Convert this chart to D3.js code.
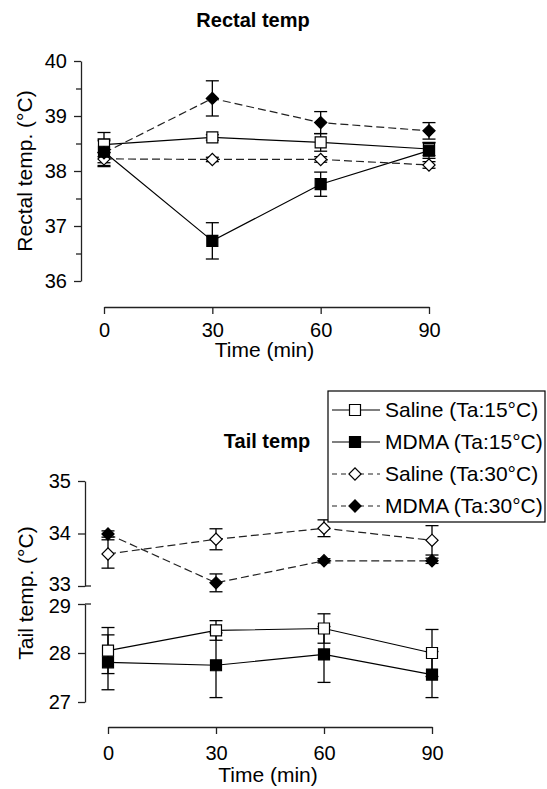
<!DOCTYPE html>
<html>
<head>
<meta charset="utf-8">
<script src="https://cdn.jsdelivr.net/npm/d3@7"></script>
<style>
  body { margin: 0; background: #fff; }
  svg { font-family: 'Liberation Sans', Arial, sans-serif; }
</style>
</head>
<body>
<div id="chart"></div>
<script>
// time points (min)
const times = [0, 30, 60, 90]

// rectal temperature (°C), mean and error
const rectalSalineCold = [38.48, 38.61, 38.52, 38.40]
const rectalSalineColdErr = [0.22, 0.05, 0.16, 0.12]
const rectalMdmaCold = [38.35, 36.73, 37.76, 38.37]
const rectalMdmaColdErr = [0.2, 0.33, 0.22, 0.14]
const rectalSalineWarm = [38.22, 38.21, 38.21, 38.11]
const rectalSalineWarmErr = [0.12, 0.04, 0.05, 0.06]
const rectalMdmaWarm = [38.33, 39.32, 38.88, 38.73]
const rectalMdmaWarmErr = [0.25, 0.32, 0.2, 0.15]

// tail temperature (°C), mean and error
const tailSalineCold = [28.05, 28.46, 28.50, 28.00]
const tailSalineColdErr = [0.47, 0.2, 0.3, 0.48]
const tailMdmaCold = [27.81, 27.75, 27.97, 27.56]
const tailMdmaColdErr = [0.56, 0.66, 0.57, 0.47]
const tailSalineWarm = [33.61, 33.89, 34.10, 33.87]
const tailSalineWarmErr = [0.27, 0.2, 0.16, 0.28]
const tailMdmaWarm = [33.99, 33.06, 33.48, 33.48]
const tailMdmaWarmErr = [0.06, 0.17, 0.04, 0.05]

const legendLabels = ['Saline (Ta:15°C)', 'MDMA (Ta:15°C)', 'Saline (Ta:30°C)', 'MDMA (Ta:30°C)']
const rectalTicks = [36, 37, 38, 39, 40]
const rectalMinor = [36.5, 37.5, 38.5, 39.5]
const tailUpperTicks = [33, 34, 35]
const tailLowerTicks = [27, 28, 29]

// marker + line style per group
const styles = [
  { shape: 'square', fill: '#fff', dash: null },
  { shape: 'square', fill: '#000', dash: null },
  { shape: 'diamond', fill: '#fff', dash: '8,4' },
  { shape: 'diamond', fill: '#000', dash: '8,4' }
]

const W = 547
const H = 789
const tickFont = 20
const labelFont = 21

const svg = d3.select('#chart').append('svg')
  .attr('width', W)
  .attr('height', H)

function markerPath (shape) {
  if (shape === 'square') return d3.symbol(d3.symbolSquare, 121)()
  return d3.symbol(d3.symbolSquare, 74)()
}

function styleAxis (g) {
  g.selectAll('path, line').attr('stroke', '#222').attr('stroke-width', 1.3)
  g.selectAll('text').attr('fill', '#000').style('font-size', tickFont + 'px')
    .style('font-family', "'Liberation Sans', Arial, sans-serif")
}

// draw one group: error bars, line
function drawSeries (g, x, y, vals, errs, st) {
  const pts = times.map((t, i) => ({ t, v: vals[i], e: errs[i] }))
  const eb = g.append('g')
  pts.forEach(p => {
    eb.append('line')
      .attr('x1', x(p.t)).attr('x2', x(p.t))
      .attr('y1', y(p.v - p.e)).attr('y2', y(p.v + p.e))
      .attr('stroke', '#000').attr('stroke-width', 1.3)
    ;[p.v - p.e, p.v + p.e].forEach(v => {
      eb.append('line')
        .attr('x1', x(p.t) - 6.5).attr('x2', x(p.t) + 6.5)
        .attr('y1', y(v)).attr('y2', y(v))
        .attr('stroke', '#000').attr('stroke-width', 1.3)
    })
  })
  g.append('path')
    .datum(pts)
    .attr('d', d3.line().x(d => x(d.t)).y(d => y(d.v)))
    .attr('fill', 'none')
    .attr('stroke', st.dash ? '#222' : '#000')
    .attr('stroke-width', 1.2)
    .attr('stroke-dasharray', st.dash)
  return pts
}

function drawMarkers (g, x, y, pts, st) {
  g.selectAll(null)
    .data(pts)
    .enter()
    .append('path')
    .attr('d', markerPath(st.shape))
    .attr('transform', d => `translate(${x(d.t)},${y(d.v)})` + (st.shape === 'diamond' ? ' rotate(45)' : ''))
    .attr('fill', st.fill)
    .attr('stroke', '#000')
    .attr('stroke-width', 1.2)
}

function xAxisBlock (x, yPos, padding, labelY) {
  const g = svg.append('g')
    .attr('transform', `translate(0,${yPos})`)
    .call(d3.axisBottom(x).tickValues(times).tickSizeInner(7).tickSizeOuter(0).tickPadding(padding))
  styleAxis(g)
  svg.append('text')
    .attr('x', (x.range()[0] + x.range()[1]) / 2 - 2)
    .attr('y', labelY)
    .attr('text-anchor', 'middle')
    .style('font-size', labelFont + 'px')
    .text('Time (min)')
}

// ---------- Rectal temp ----------
{
  const x = d3.scaleLinear().domain([0, 90]).range([104, 429])
  const y = d3.scaleLinear().domain([36, 40]).range([281, 61])

  svg.append('text')
    .attr('x', 253).attr('y', 27)
    .attr('text-anchor', 'middle')
    .style('font-size', tickFont + 'px')
    .style('font-weight', 'bold')
    .text('Rectal temp')

  const ya = svg.append('g')
    .attr('transform', 'translate(81,0)')
    .call(d3.axisLeft(y).tickValues(rectalTicks).tickSizeInner(7).tickSizeOuter(0).tickPadding(7).tickFormat(d3.format('d')))
  styleAxis(ya)
  const ym = svg.append('g')
    .attr('transform', 'translate(81,0)')
    .call(d3.axisLeft(y).tickValues(rectalMinor).tickSizeInner(5).tickSizeOuter(0).tickFormat(''))
  styleAxis(ym)
  ym.select('.domain').remove()

  svg.append('text')
    .attr('transform', `translate(32,${(y.range()[0] + y.range()[1]) / 2}) rotate(-90)`)
    .attr('text-anchor', 'middle')
    .style('font-size', labelFont + 'px')
    .text('Rectal temp. (°C)')

  xAxisBlock(x, 307, 9, 357)

  const plot = svg.append('g')
  const groups = [
    [rectalSalineCold, rectalSalineColdErr],
    [rectalMdmaCold, rectalMdmaColdErr],
    [rectalSalineWarm, rectalSalineWarmErr],
    [rectalMdmaWarm, rectalMdmaWarmErr]
  ]
  const all = groups.map((gv, i) => drawSeries(plot, x, y, gv[0], gv[1], styles[i]))
  // open markers first, filled on top
  ;[2, 0, 3, 1].forEach(i => drawMarkers(plot, x, y, all[i], styles[i]))
}

// ---------- Tail temp ----------
{
  const x = d3.scaleLinear().domain([0, 90]).range([108, 432])
  const yUp = d3.scaleLinear().domain([33, 35]).range([586, 481])
  const yLo = d3.scaleLinear().domain([27, 29]).range([702, 604])

  svg.append('text')
    .attr('x', 267).attr('y', 448)
    .attr('text-anchor', 'middle')
    .style('font-size', tickFont + 'px')
    .style('font-weight', 'bold')
    .text('Tail temp')

  ;[[yUp, tailUpperTicks, 33, '0.22em'], [yLo, tailLowerTicks, 29, '0.4em']].forEach(([y, ticks, brk, dy]) => {
    const ga = svg.append('g')
      .attr('transform', 'translate(85,0)')
      .call(d3.axisLeft(y).tickValues(ticks).tickSizeInner(7).tickSizeOuter(0).tickPadding(7).tickFormat(d3.format('d')))
    styleAxis(ga)
    // pull the two labels at the break slightly apart
    ga.selectAll('.tick').filter(d => d === brk).select('text').attr('dy', dy)
    // break mark crossing the axis
    svg.append('line')
      .attr('x1', 85).attr('x2', 91)
      .attr('y1', y(brk)).attr('y2', y(brk))
      .attr('stroke', '#222').attr('stroke-width', 1.3)
  })

  svg.append('text')
    .attr('transform', 'translate(33,593) rotate(-90)')
    .attr('text-anchor', 'middle')
    .style('font-size', labelFont + 'px')
    .text('Tail temp. (°C)')

  xAxisBlock(x, 727, 12, 782)

  const plot = svg.append('g')
  const lower = [
    [tailSalineCold, tailSalineColdErr],
    [tailMdmaCold, tailMdmaColdErr]
  ]
  const upper = [
    [tailSalineWarm, tailSalineWarmErr],
    [tailMdmaWarm, tailMdmaWarmErr]
  ]
  const lo = lower.map((gv, i) => drawSeries(plot, x, yLo, gv[0], gv[1], styles[i]))
  const up = upper.map((gv, i) => drawSeries(plot, x, yUp, gv[0], gv[1], styles[i + 2]))
  drawMarkers(plot, x, yLo, lo[0], styles[0])
  drawMarkers(plot, x, yLo, lo[1], styles[1])
  drawMarkers(plot, x, yUp, up[0], styles[2])
  drawMarkers(plot, x, yUp, up[1], styles[3])

  // legend
  const lg = svg.append('g')
  lg.append('rect')
    .attr('x', 328).attr('y', 391)
    .attr('width', 217).attr('height', 131)
    .attr('fill', '#fff')
    .attr('stroke', '#000')
    .attr('stroke-width', 1.2)
  const rowY = d3.scalePoint().domain(legendLabels).range([410, 506])
  legendLabels.forEach((lab, i) => {
    const st = styles[i]
    const yy = rowY(lab)
    lg.append('line')
      .attr('x1', 332).attr('x2', 380)
      .attr('y1', yy).attr('y2', yy)
      .attr('stroke', st.dash ? '#222' : '#000')
      .attr('stroke-width', 1.2)
      .attr('stroke-dasharray', st.dash ? '5,4' : null)
    lg.append('path')
      .attr('d', markerPath(st.shape))
      .attr('transform', `translate(355,${yy})` + (st.shape === 'diamond' ? ' rotate(45)' : ''))
      .attr('fill', st.fill)
      .attr('stroke', '#000')
      .attr('stroke-width', 1.2)
    lg.append('text')
      .attr('x', 385).attr('y', yy)
      .attr('dy', '0.35em')
      .style('font-size', labelFont + 'px')
      .text(lab)
  })
}
</script>
</body>
</html>
